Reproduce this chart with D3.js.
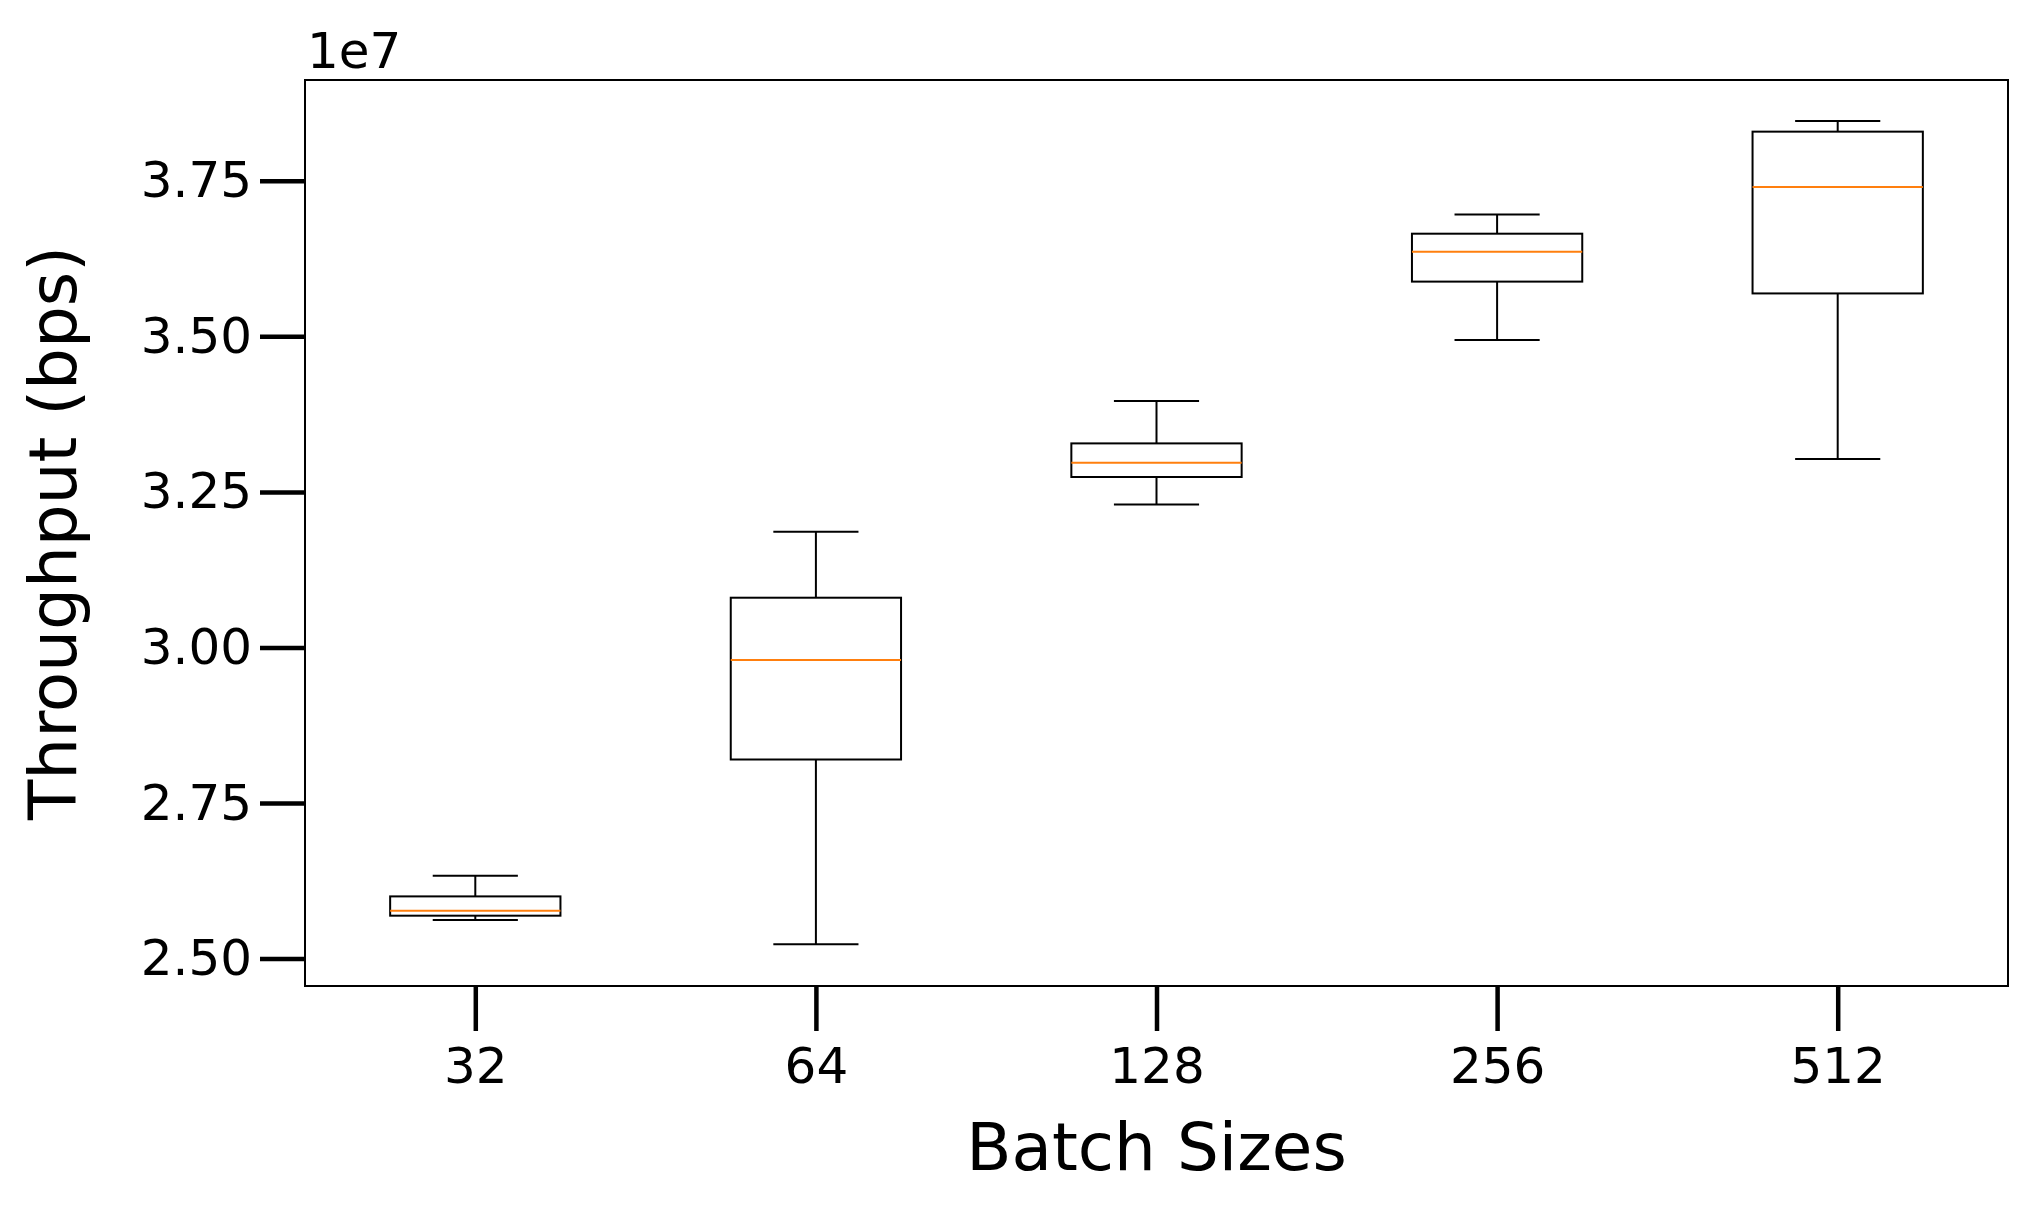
<!DOCTYPE html>
<html>
<head>
<meta charset="utf-8">
<script src="https://d3js.org/d3.v7.min.js"></script>
<style>body{margin:0;background:#fff} text{font-family:"DejaVu Sans",sans-serif}</style>
</head>
<body>
<div id="chart"></div>
<script>
const batches = ["32", "64", "128", "256", "512"]
const whiskerLow = [2.562, 2.523, 3.230, 3.494, 3.303]
const q1 = [2.569, 2.820, 3.274, 3.588, 3.569]
const median = [2.577, 2.980, 3.297, 3.636, 3.740]
const q3 = [2.600, 3.080, 3.328, 3.665, 3.829]
const whiskerHigh = [2.633, 3.186, 3.396, 3.696, 3.846]
const yTicks = [2.50, 2.75, 3.00, 3.25, 3.50, 3.75]

const W = 2029, H = 1210
const m = {left: 305, right: 21, top: 80, bottom: 224}
const svg = d3.select('#chart').append('svg').attr('width', W).attr('height', H)

const x = d3.scaleLinear().domain([0.5, 5.5]).range([m.left, W - m.right])
const y = d3.scaleLinear().domain([2.456, 3.912]).range([H - m.bottom, m.top])
const boxW = (x(1) - x(0)) * 0.5

const data = batches.map((b, i) => ({b, i: i + 1, lo: whiskerLow[i], q1: q1[i], med: median[i], q3: q3[i], hi: whiskerHigh[i]}))

const g = svg.append('g')
data.forEach(d => {
  const cx = x(d.i)
  const gg = g.append('g').attr('stroke', 'black').attr('stroke-width', 2).attr('fill', 'none')
  gg.append('line').attr('x1', cx).attr('x2', cx).attr('y1', y(d.q3)).attr('y2', y(d.hi))
  gg.append('line').attr('x1', cx).attr('x2', cx).attr('y1', y(d.q1)).attr('y2', y(d.lo))
  gg.append('line').attr('x1', cx - boxW / 4).attr('x2', cx + boxW / 4).attr('y1', y(d.hi)).attr('y2', y(d.hi))
  gg.append('line').attr('x1', cx - boxW / 4).attr('x2', cx + boxW / 4).attr('y1', y(d.lo)).attr('y2', y(d.lo))
  gg.append('rect').attr('x', cx - boxW / 2).attr('width', boxW).attr('y', y(d.q3)).attr('height', y(d.q1) - y(d.q3))
  gg.append('line').attr('stroke', '#ff7f0e').attr('x1', cx - boxW / 2).attr('x2', cx + boxW / 2).attr('y1', y(d.med)).attr('y2', y(d.med))
})

svg.append('rect').attr('x', m.left).attr('y', m.top).attr('width', W - m.right - m.left).attr('height', H - m.bottom - m.top)
  .attr('fill', 'none').attr('stroke', 'black').attr('stroke-width', 2)

const yAxis = svg.append('g').attr('transform', `translate(${m.left},0)`)
  .call(d3.axisLeft(y).tickValues(yTicks).tickFormat(d3.format('.2f')).tickSize(45).tickPadding(8))
const xAxis = svg.append('g').attr('transform', `translate(0,${H - m.bottom})`)
  .call(d3.axisBottom(x).tickValues([1, 2, 3, 4, 5]).tickFormat(d => batches[d - 1]).tickSize(45).tickPadding(12))
;[yAxis, xAxis].forEach(a => {
  a.select('.domain').remove()
  a.selectAll('.tick line').attr('stroke-width', 4.5)
  a.selectAll('text').attr('font-size', 50).attr('fill', 'black')
})
xAxis.selectAll('text').attr('dy', '0.8em')

svg.append('text').attr('x', m.left + 2).attr('y', m.top - 12).attr('font-size', 50).text('1e7')
svg.append('text').attr('x', (m.left + W - m.right) / 2).attr('y', 1170).attr('text-anchor', 'middle').attr('font-size', 66).text('Batch Sizes')
svg.append('text').attr('transform', `translate(76,${(m.top + H - m.bottom) / 2}) rotate(-90)`).attr('text-anchor', 'middle').attr('font-size', 66).text('Throughput (bps)')
</script>
</body>
</html>
